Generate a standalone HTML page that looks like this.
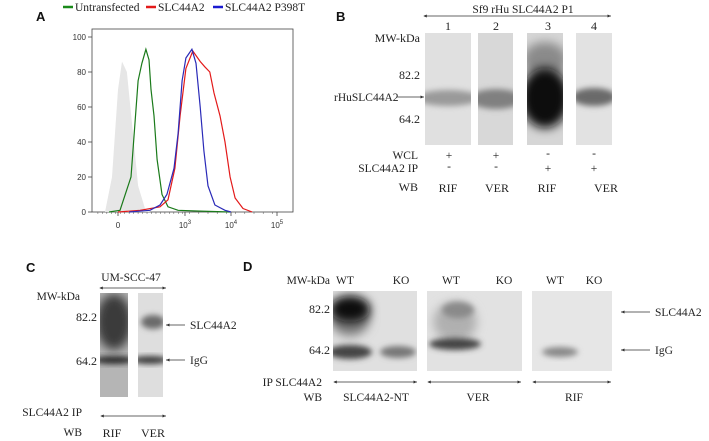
<!DOCTYPE html>
<html><head><meta charset="utf-8">
<style>
html,body{margin:0;padding:0;background:#fff;}
body{width:709px;height:441px;overflow:hidden;position:relative;font-family:"Liberation Serif",serif;}
svg{position:absolute;left:0;top:0;}
.s{font-family:"Liberation Serif",serif;font-size:12px;fill:#222;}
.sm{font-family:"Liberation Serif",serif;font-size:11.5px;fill:#222;}
.lab{font-family:"Liberation Sans",sans-serif;font-weight:bold;font-size:13px;fill:#111;}
.tk{font-family:"Liberation Sans",sans-serif;font-size:8px;fill:#333;}
</style></head>
<body>
<svg width="709" height="441" viewBox="0 0 709 441">
<defs>
<filter id="b2" x="-50%" y="-50%" width="200%" height="200%"><feGaussianBlur stdDeviation="3"/></filter>
<filter id="b4" x="-50%" y="-50%" width="200%" height="200%"><feGaussianBlur stdDeviation="5"/></filter>
<marker id="ah" markerWidth="6" markerHeight="6" refX="5" refY="3" orient="auto"><path d="M0,0.8 L5,3 L0,5.2 z" fill="#333"/></marker>
<marker id="ahs" markerWidth="6" markerHeight="6" refX="1" refY="3" orient="auto"><path d="M5,0.8 L0,3 L5,5.2 z" fill="#333"/></marker>
<clipPath id="cb1"><rect x="425" y="33" width="46" height="112"/></clipPath>
<clipPath id="cb2"><rect x="478" y="33" width="35" height="112"/></clipPath>
<clipPath id="cb3"><rect x="527" y="33" width="36" height="112"/></clipPath>
<clipPath id="cb4"><rect x="576" y="33" width="36" height="112"/></clipPath>
<clipPath id="cc1"><rect x="100" y="293" width="28" height="104"/></clipPath>
<clipPath id="cc2"><rect x="138" y="293" width="25" height="104"/></clipPath>
<clipPath id="cd1"><rect x="333" y="291" width="84" height="80"/></clipPath>
<clipPath id="cd2"><rect x="427" y="291" width="95" height="80"/></clipPath>
<clipPath id="cd3"><rect x="532" y="291" width="80" height="80"/></clipPath>
</defs>

<!-- Panel A -->
<g>
<text class="lab" x="36" y="21">A</text>
<g>
<g><line x1="63" y1="7" x2="73" y2="7" stroke="#1a8a1a" stroke-width="2.5"/><text class="sm" x="75" y="11">Untransfected</text></g>
<g><line x1="146" y1="7" x2="156" y2="7" stroke="#e31a1a" stroke-width="2.5"/><text class="sm" x="158" y="11">SLC44A2</text></g>
<g><line x1="213" y1="7" x2="223" y2="7" stroke="#1a1ad0" stroke-width="2.5"/><text class="sm" x="225" y="11">SLC44A2 P398T</text></g>
</g>
<rect x="92" y="29" width="201" height="183" fill="none" stroke="#444" stroke-width="0.8"/>
<g id="aAxes"></g>
<g id="aCurves"></g>
</g>

<!-- Panel B -->
<g>
<text class="lab" x="336" y="21">B</text>
<text class="sm" x="523" y="13" text-anchor="middle">Sf9 rHu SLC44A2 P1</text>
<line x1="424" y1="16" x2="611" y2="16" stroke="#333" stroke-width="0.7" marker-end="url(#ah)" marker-start="url(#ahs)"/>
<text class="s" x="448" y="30" text-anchor="middle">1</text>
<text class="s" x="496" y="30" text-anchor="middle">2</text>
<text class="s" x="548" y="30" text-anchor="middle">3</text>
<text class="s" x="594" y="30" text-anchor="middle">4</text>
<text class="s" x="420" y="42" text-anchor="end">MW-kDa</text>
<text class="s" x="420" y="79" text-anchor="end">82.2</text>
<text class="s" x="420" y="123" text-anchor="end">64.2</text>
<text class="sm" x="334" y="101">rHuSLC44A2</text>
<line x1="397" y1="97" x2="424" y2="97" stroke="#333" stroke-width="0.7" marker-end="url(#ah)"/>
<g>
<rect x="425" y="33" width="46" height="112" fill="#e0e0e0"/>
<rect x="478" y="33" width="35" height="112" fill="#d8d8d8"/>
<rect x="527" y="33" width="36" height="112" fill="#d6d6d6"/>
<rect x="576" y="33" width="36" height="112" fill="#e2e2e2"/>
<g clip-path="url(#cb1)"><ellipse cx="448" cy="98" rx="32" ry="8" fill="#9a9a9a" filter="url(#b2)"/></g>
<g clip-path="url(#cb2)"><ellipse cx="496" cy="99" rx="26" ry="10" fill="#808080" filter="url(#b2)"/></g>
<g clip-path="url(#cb3)"><ellipse cx="545" cy="60" rx="22" ry="18" fill="#8a8a8a" filter="url(#b4)"/><ellipse cx="545" cy="98" rx="24" ry="30" fill="#0a0a0a" filter="url(#b4)"/></g>
<g clip-path="url(#cb4)"><ellipse cx="594" cy="97" rx="22" ry="9" fill="#6a6a6a" filter="url(#b2)"/></g>
</g>
<text class="sm" x="418" y="159" text-anchor="end">WCL</text>
<text class="sm" x="418" y="172" text-anchor="end">SLC44A2 IP</text>
<text class="s" x="418" y="191" text-anchor="end">WB</text>
<text class="sm" x="449" y="159" text-anchor="middle">+</text><text class="sm" x="496" y="159" text-anchor="middle">+</text>
<text class="sm" x="548" y="157" text-anchor="middle">-</text><text class="sm" x="594" y="157" text-anchor="middle">-</text>
<text class="sm" x="449" y="170" text-anchor="middle">-</text><text class="sm" x="496" y="170" text-anchor="middle">-</text>
<text class="sm" x="548" y="172" text-anchor="middle">+</text><text class="sm" x="594" y="172" text-anchor="middle">+</text>
<text class="s" x="448" y="192" text-anchor="middle" font-size="14">RIF</text>
<text class="s" x="497" y="192" text-anchor="middle" font-size="14">VER</text>
<text class="s" x="547" y="192" text-anchor="middle" font-size="14">RIF</text>
<text class="s" x="606" y="192" text-anchor="middle" font-size="14">VER</text>
</g>

<!-- Panel C -->
<g>
<text class="lab" x="26" y="272">C</text>
<text class="sm" x="131" y="281" text-anchor="middle">UM-SCC-47</text>
<line x1="100" y1="288" x2="166" y2="288" stroke="#333" stroke-width="0.7" marker-end="url(#ah)" marker-start="url(#ahs)"/>
<text class="sm" x="80" y="300" text-anchor="end">MW-kDa</text>
<text class="s" x="97" y="321" text-anchor="end">82.2</text>
<text class="s" x="97" y="365" text-anchor="end">64.2</text>
<g>
<rect x="100" y="293" width="28" height="104" fill="#b5b5b5"/>
<rect x="138" y="293" width="25" height="104" fill="#dedede"/>
<g clip-path="url(#cc1)"><ellipse cx="114" cy="322" rx="18" ry="28" fill="#3a3a3a" filter="url(#b4)"/><ellipse cx="114" cy="360" rx="20" ry="4" fill="#2a2a2a" filter="url(#b2)"/></g>
<g clip-path="url(#cc2)"><ellipse cx="150" cy="360" rx="18" ry="4" fill="#3a3a3a" filter="url(#b2)"/><ellipse cx="153" cy="322" rx="12" ry="7" fill="#6a6a6a" filter="url(#b2)"/></g>
</g>
<line x1="185" y1="325" x2="166" y2="325" stroke="#333" stroke-width="0.7" marker-end="url(#ah)"/>
<text class="sm" x="190" y="329">SLC44A2</text>
<line x1="185" y1="360" x2="166" y2="360" stroke="#333" stroke-width="0.7" marker-end="url(#ah)"/>
<text class="sm" x="190" y="364">IgG</text>
<text class="sm" x="82" y="416" text-anchor="end">SLC44A2 IP</text>
<line x1="101" y1="416" x2="166" y2="416" stroke="#333" stroke-width="0.7" marker-end="url(#ah)" marker-start="url(#ahs)"/>
<text class="sm" x="82" y="436" text-anchor="end">WB</text>
<text class="s" x="112" y="437" text-anchor="middle" font-size="14">RIF</text>
<text class="s" x="153" y="437" text-anchor="middle" font-size="14">VER</text>
</g>

<!-- Panel D -->
<g>
<text class="lab" x="243" y="271">D</text>
<text class="sm" x="330" y="284" text-anchor="end">MW-kDa</text>
<text class="sm" x="345" y="284" text-anchor="middle">WT</text><text class="sm" x="401" y="284" text-anchor="middle">KO</text>
<text class="sm" x="451" y="284" text-anchor="middle">WT</text><text class="sm" x="504" y="284" text-anchor="middle">KO</text>
<text class="sm" x="555" y="284" text-anchor="middle">WT</text><text class="sm" x="594" y="284" text-anchor="middle">KO</text>
<text class="s" x="330" y="313" text-anchor="end">82.2</text>
<text class="s" x="330" y="354" text-anchor="end">64.2</text>
<g>
<rect x="333" y="291" width="84" height="80" fill="#e0e0e0"/>
<rect x="427" y="291" width="95" height="80" fill="#e2e2e2"/>
<rect x="532" y="291" width="80" height="80" fill="#e6e6e6"/>
<g clip-path="url(#cd1)">
<ellipse cx="350" cy="318" rx="20" ry="18" fill="#7a7a7a" filter="url(#b4)"/>
<ellipse cx="350" cy="309" rx="20" ry="13" fill="#0a0a0a" filter="url(#b4)"/>
<ellipse cx="350" cy="352" rx="22" ry="7" fill="#444" filter="url(#b2)"/>
<ellipse cx="398" cy="352" rx="18" ry="6" fill="#777" filter="url(#b2)"/>
</g>
<g clip-path="url(#cd2)">
<ellipse cx="455" cy="322" rx="22" ry="20" fill="#b0b0b0" filter="url(#b4)"/>
<ellipse cx="458" cy="310" rx="16" ry="8" fill="#8a8a8a" filter="url(#b2)"/>
<ellipse cx="455" cy="344" rx="26" ry="6" fill="#444" filter="url(#b2)"/>
</g>
<g clip-path="url(#cd3)"><ellipse cx="560" cy="352" rx="18" ry="5" fill="#888" filter="url(#b2)"/></g>
</g>
<line x1="650" y1="312" x2="621" y2="312" stroke="#333" stroke-width="0.7" marker-end="url(#ah)"/>
<text class="sm" x="655" y="316">SLC44A2</text>
<line x1="650" y1="350" x2="621" y2="350" stroke="#333" stroke-width="0.7" marker-end="url(#ah)"/>
<text class="sm" x="655" y="354">IgG</text>
<text class="sm" x="322" y="386" text-anchor="end">IP SLC44A2</text>
<text class="sm" x="322" y="401" text-anchor="end">WB</text>
<line x1="334" y1="382" x2="417" y2="382" stroke="#333" stroke-width="0.7" marker-end="url(#ah)" marker-start="url(#ahs)"/>
<line x1="428" y1="382" x2="521" y2="382" stroke="#333" stroke-width="0.7" marker-end="url(#ah)" marker-start="url(#ahs)"/>
<line x1="533" y1="382" x2="611" y2="382" stroke="#333" stroke-width="0.7" marker-end="url(#ah)" marker-start="url(#ahs)"/>
<text class="sm" x="376" y="401" text-anchor="middle">SLC44A2-NT</text>
<text class="sm" x="478" y="401" text-anchor="middle">VER</text>
<text class="sm" x="574" y="401" text-anchor="middle">RIF</text>
</g>
</svg>

<script>
// Panel A flow cytometry histograms (x in display units: 0 tick=0, 10^3=3, 10^4=4, 10^5=5)
const yTicks = [0, 20, 40, 60, 80, 100];
const xTickVals = [0, 3, 4, 5];
const xTickLabels = ["0", "10", "10", "10"];
const xTickExp = ["", "3", "4", "5"];
const greyX = [-0.58, -0.27, 0, 0.18, 0.4, 0.63, 0.9, 1.21, 1.43];
const greyY = [0, 20, 70, 86, 80, 50, 15, 2, 0];
const greenX = [-0.4, 0.09, 0.58, 0.9, 1.07, 1.25, 1.39, 1.48, 1.61, 1.75, 1.97, 2.24, 2.69, 3.33, 3.98];
const greenY = [0, 1, 20, 75, 85, 93, 87, 70, 55, 30, 10, 3, 1, 0.5, 0];
const blueX = [0.5, 1.43, 1.88, 2.19, 2.51, 2.69, 2.87, 3.02, 3.15, 3.24, 3.33, 3.41, 3.5, 3.65, 3.87, 4.0];
const blueY = [0, 1, 4, 10, 25, 45, 75, 88, 93, 85, 60, 35, 15, 4, 1, 0];
const redX = [0, 0.99, 1.88, 2.24, 2.55, 2.78, 3.02, 3.17, 3.33, 3.43, 3.54, 3.63, 3.76, 3.87, 3.98, 4.09, 4.26, 4.46];
const redY = [0, 1, 3, 7, 25, 55, 82, 92, 86, 83, 80, 68, 55, 40, 20, 8, 2, 0];

function sx(u){ return u <= 3 ? 118 + u * 22.33 : 185 + (u - 3) * 46; }
function sy(v){ return 212 - v * 1.75; }
const NS = "http://www.w3.org/2000/svg";
const axes = document.getElementById('aAxes');
const curves = document.getElementById('aCurves');
function mk(tag, attrs, parent){ const e = document.createElementNS(NS, tag); for (const k in attrs) e.setAttribute(k, attrs[k]); parent.appendChild(e); return e; }

yTicks.forEach(function(t){
  const g = mk('g', {}, axes);
  
  
  mk('line', {x1: 88, x2: 92, y1: sy(t), y2: sy(t), stroke: '#444', 'stroke-width': 0.8}, g);
  const tx = mk('text', {x: 86, y: sy(t) + 3, 'text-anchor': 'end', class: 'tk'}, g);
  tx.textContent = t;
});
xTickVals.forEach(function(t, i){
  const g = mk('g', {}, axes);
  
  
  mk('line', {x1: sx(t), x2: sx(t), y1: 212, y2: 216, stroke: '#444', 'stroke-width': 0.8}, g);
  const tx = mk('text', {x: sx(t), y: 228, 'text-anchor': 'middle', class: 'tk'}, g);
  tx.textContent = xTickLabels[i];
  if (xTickExp[i]) { const ts = mk('tspan', {dy: -4, 'font-size': 6}, tx); ts.textContent = xTickExp[i]; }
});
for (let u = -0.9; u < 5; u += 0.2) {
  const m = mk('line', {x1: sx(u), x2: sx(u), y1: 212, y2: 214, stroke: '#555', 'stroke-width': 0.5}, axes);
  
  
}
function pts(xs, ys){ return xs.map(function(x, i){ return sx(x).toFixed(1) + ',' + sy(ys[i]).toFixed(1); }).join(' '); }
const gp = mk('polygon', {points: pts(greyX, greyY), fill: '#e6e6e6', stroke: 'none'}, curves);


const gl = mk('polyline', {points: pts(greenX, greenY), fill: 'none', stroke: '#1a7a1a', 'stroke-width': 1.2}, curves);


const rl = mk('polyline', {points: pts(redX, redY), fill: 'none', stroke: '#e31a1a', 'stroke-width': 1.2}, curves);


const bl = mk('polyline', {points: pts(blueX, blueY), fill: 'none', stroke: '#2a2ab8', 'stroke-width': 1.2}, curves);


</script>
</body></html>
